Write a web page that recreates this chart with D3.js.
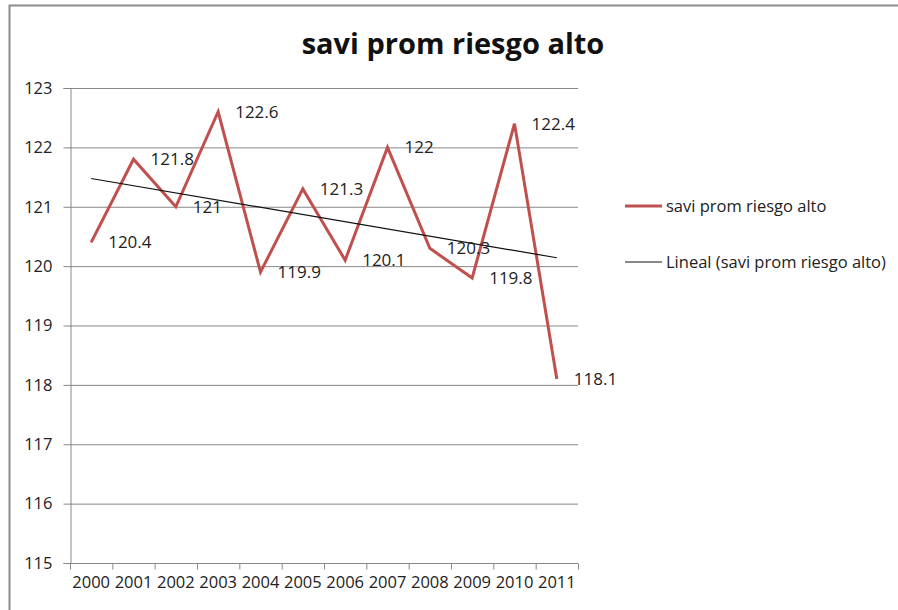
<!DOCTYPE html>
<html>
<head>
<meta charset="utf-8">
<script src="https://cdn.jsdelivr.net/npm/d3@7"></script>
<style>
  html, body { margin: 0; padding: 0; background: #fff; }
  svg { display: block; }
  text { font-family: "Open Sans", "DejaVu Sans", sans-serif; fill: #222; }
</style>
</head>
<body>
<svg id="chart" width="898" height="610"></svg>
<script>
// Yearly values of the index
const years = ["2000","2001","2002","2003","2004","2005","2006","2007","2008","2009","2010","2011"];
const values = [120.4, 121.8, 121, 122.6, 119.9, 121.3, 120.1, 122, 120.3, 119.8, 122.4, 118.1];
const yTicks = [115, 116, 117, 118, 119, 120, 121, 122, 123];
const seriesName = "savi prom riesgo alto";
const trendName = "Lineal (savi prom riesgo alto)";

const W = 898, H = 610;
const plot = { left: 70, right: 578, top: 88, bottom: 563 };
const red = "#C0504D";
const grid = "#878787";

const svg = d3.select("#chart");

// outer chart frame
svg.append("rect")
  .attr("x", 9.5).attr("y", 5.5)
  .attr("width", W + 20).attr("height", H + 20)
  .attr("fill", "#fff").attr("stroke", "#8c8c8c").attr("stroke-width", 2);

// title
svg.append("text")
  .attr("x", 453).attr("y", 54)
  .attr("text-anchor", "middle")
  .style("font-size", "29px").style("font-weight", "700")
  .style("fill", "#111")
  .text(seriesName);

const x = d3.scaleBand().domain(years).range([plot.left, plot.right]);
const y = d3.scaleLinear().domain([115, 123]).range([plot.bottom, plot.top]);
const cx = d => x(d) + x.bandwidth() / 2;

// horizontal gridlines
svg.append("g").selectAll("line")
  .data(yTicks.filter(t => t > 115))
  .join("line")
  .attr("x1", plot.left).attr("x2", plot.right)
  .attr("y1", d => y(d) + 0.5).attr("y2", d => y(d) + 0.5)
  .attr("stroke", grid).attr("stroke-width", 1);

// value axis
const yAxis = svg.append("g")
  .attr("transform", `translate(${plot.left + 0.5},0)`)
  .call(d3.axisLeft(y).tickValues(yTicks).tickSize(7).tickPadding(11).tickFormat(d3.format("d")));
yAxis.select(".domain").attr("stroke", grid);
yAxis.selectAll(".tick line").attr("stroke", grid);
yAxis.selectAll(".tick text")
  .style("font-size", "16.5px").style("font-family", "\"Open Sans\", sans-serif").attr("fill", "#222");

// category axis with ticks between categories
const xAxisG = svg.append("g").attr("transform", `translate(0,${plot.bottom + 0.5})`);
xAxisG.append("line")
  .attr("x1", plot.left - 6).attr("x2", plot.right)
  .attr("stroke", grid);
const boundaries = years.map(d => x(d)).concat([plot.right]);
xAxisG.selectAll("line.tk")
  .data(boundaries)
  .join("line").attr("class", "tk")
  .attr("x1", d => d + 0.5).attr("x2", d => d + 0.5)
  .attr("y1", 0).attr("y2", 6)
  .attr("stroke", grid);
xAxisG.selectAll("text")
  .data(years)
  .join("text")
  .attr("x", d => cx(d)).attr("y", 19)
  .attr("dy", "0.35em")
  .attr("text-anchor", "middle")
  .style("font-size", "16.5px")
  .text(d => d);

// data series
const line = d3.line().x((d, i) => cx(years[i])).y(d => y(d));
svg.append("path")
  .datum(values)
  .attr("d", line)
  .attr("fill", "none")
  .attr("stroke", red).attr("stroke-width", 3)
  .attr("stroke-linejoin", "miter");

// least-squares trend line over the series
const n = values.length;
const xs = d3.range(1, n + 1);
const mx = d3.mean(xs), my = d3.mean(values);
const slope = d3.sum(xs, (v, i) => (v - mx) * (values[i] - my)) / d3.sum(xs, v => (v - mx) ** 2);
const intercept = my - slope * mx;
const trend = [1, n].map(v => ({ cat: years[v - 1], val: intercept + slope * v }));
svg.append("path")
  .datum(trend)
  .attr("d", d3.line().x(d => cx(d.cat)).y(d => y(d.val)))
  .attr("stroke", "#111").attr("stroke-width", 1.2).attr("fill", "none");

// data labels to the right of each point
svg.append("g").selectAll("text")
  .data(values)
  .join("text")
  .attr("x", (d, i) => cx(years[i]) + 17)
  .attr("y", d => y(d))
  .attr("dy", "0.35em")
  .style("font-size", "17px")
  .text(d => d);

// legend
const legend = svg.append("g");
const legendItems = [
  { label: seriesName, color: red, width: 3, ly: 206 },
  { label: trendName, color: "#111", width: 1.2, ly: 262 }
];
legendItems.forEach(it => {
  legend.append("line")
    .attr("x1", 625).attr("x2", 662)
    .attr("y1", it.ly).attr("y2", it.ly)
    .attr("stroke", it.color).attr("stroke-width", it.width);
  legend.append("text")
    .attr("x", 666).attr("y", it.ly).attr("dy", "0.35em")
    .style("font-size", "16.5px")
    .text(it.label);
});
</script>
</body>
</html>
